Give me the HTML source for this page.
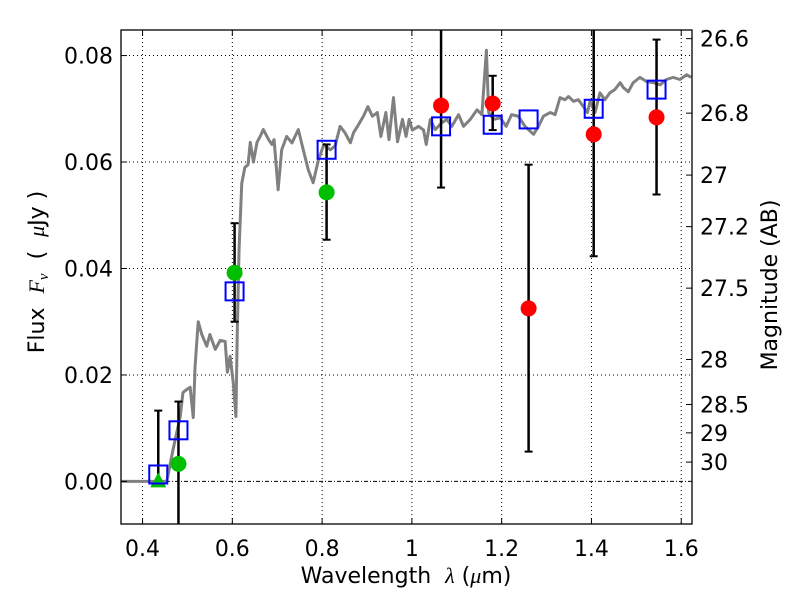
<!DOCTYPE html>
<html><head><meta charset="utf-8"><style>
html,body{margin:0;padding:0;background:#fff;}
svg text{font-family:"DejaVu Sans","Liberation Sans",sans-serif;}
</style></head><body>
<svg id="chart" width="800" height="600" xmlns="http://www.w3.org/2000/svg">
<rect width="800" height="600" fill="#fff"/>
<g id="grid"></g>
<g id="spec"></g>
<g id="marks"></g>
<g id="axes"></g>
<text x="406" y="583" font-size="22" text-anchor="middle">Wavelength&#160;&#160;<tspan font-family="Liberation Serif" font-style="italic">λ</tspan> (<tspan font-family="Liberation Serif" font-style="italic">μ</tspan>m)</text>
<text transform="translate(44,272) rotate(-90)" font-size="22" text-anchor="middle">Flux&#160;&#160;<tspan font-family="Liberation Serif" font-style="italic">F<tspan font-size="15" dy="4">ν</tspan></tspan><tspan dy="-4">&#160;&#160;(&#160;&#160;</tspan><tspan font-family="Liberation Serif" font-style="italic">μ</tspan>Jy )</text>
<text transform="translate(777,285) rotate(-90)" font-size="22" text-anchor="middle">Magnitude (AB)</text>
</svg>
<script>
const xTicks=[0.4,0.6,0.8,1.0,1.2,1.4,1.6];
const xTickLabels=["0.4","0.6","0.8","1","1.2","1.4","1.6"];
const yTicks=[0,0.02,0.04,0.06,0.08];
const yTickLabels=["0.00","0.02","0.04","0.06","0.08"];
const magTicks=[26.6,26.8,27,27.2,27.5,28,28.5,29,30];
const magTickLabels=["26.6","26.8","27","27.2","27.5","28","28.5","29","30"];
const specWl=[0.349,0.454,0.468,0.484,0.490,0.499,0.506,0.513,0.517,0.524,0.532,0.543,0.550,0.562,0.573,0.584,0.589,0.595,0.602,0.608,0.611,0.615,0.621,0.628,0.635,0.640,0.647,0.655,0.662,0.669,0.681,0.688,0.693,0.702,0.710,0.721,0.733,0.747,0.758,0.769,0.780,0.792,0.804,0.818,0.829,0.840,0.851,0.863,0.870,0.881,0.892,0.902,0.912,0.923,0.931,0.942,0.949,0.959,0.968,0.979,0.987,0.994,1.001,1.015,1.026,1.032,1.041,1.052,1.067,1.078,1.089,1.104,1.115,1.130,1.145,1.156,1.166,1.171,1.182,1.197,1.210,1.222,1.237,1.252,1.271,1.282,1.293,1.308,1.319,1.330,1.341,1.349,1.360,1.371,1.382,1.391,1.397,1.408,1.419,1.430,1.441,1.452,1.464,1.471,1.482,1.493,1.508,1.523,1.538,1.553,1.567,1.582,1.597,1.612,1.622];
const specFlux=[0,0,0.006,0.0122,0.0167,0.0173,0.0177,0.012,0.0216,0.030,0.0276,0.0254,0.0276,0.0248,0.0265,0.0263,0.0205,0.0235,0.0186,0.0122,0.028,0.0436,0.056,0.059,0.0595,0.0637,0.060,0.0637,0.0648,0.0661,0.0642,0.0633,0.0642,0.0548,0.0623,0.0648,0.0636,0.0661,0.0623,0.0586,0.0561,0.0605,0.0633,0.0623,0.063,0.0667,0.0655,0.0636,0.0655,0.067,0.0686,0.0704,0.0686,0.0693,0.0648,0.0693,0.0642,0.0721,0.0638,0.068,0.0648,0.068,0.066,0.0667,0.066,0.0633,0.068,0.0661,0.0674,0.068,0.0667,0.0689,0.0667,0.068,0.0698,0.0689,0.081,0.0693,0.068,0.0683,0.0667,0.0689,0.0686,0.0667,0.0652,0.0667,0.0686,0.0693,0.0689,0.0721,0.0717,0.0723,0.0714,0.0717,0.0704,0.0693,0.0714,0.0693,0.073,0.0717,0.073,0.0736,0.0749,0.074,0.0732,0.0749,0.0759,0.0751,0.0749,0.0745,0.0755,0.0759,0.0755,0.0764,0.0759];
const obsWl=[0.48,0.605,0.81,1.065,1.18,1.26,1.405,1.545];
const obsFlux=[0.0033,0.0392,0.0543,0.0706,0.071,0.0325,0.0652,0.0684];
const obsLo=[-0.02,0.030,0.0454,0.0552,0.066,0.0056,0.0423,0.0539];
const obsHi=[0.015,0.0485,0.0633,0.12,0.0762,0.0595,0.12,0.083];
const obsColor=["#00bf00","#00bf00","#00bf00","#ff0000","#ff0000","#ff0000","#ff0000","#ff0000"];
const limWl=[0.435];
const limFlux=[0];
const limHi=[0.0133];
const modelWl=[0.435,0.48,0.605,0.81,1.065,1.18,1.26,1.405,1.545];
const modelFlux=[0.0013,0.0096,0.0357,0.0623,0.0667,0.067,0.068,0.070,0.0736];

const L=121,R=692,T=30,B=524;
const X0=0.352,X1=1.624,Y0=-0.008,Y1=0.0848;
const xs=v=>L+(v-X0)/(X1-X0)*(R-L);
const ys=v=>B-(v-Y0)/(Y1-Y0)*(B-T);
const NS="http://www.w3.org/2000/svg";
function mk(tag,attrs,parent){const e=document.createElementNS(NS,tag);for(const k in attrs)e.setAttribute(k,attrs[k]);parent.appendChild(e);return e;}
const grid=document.getElementById('grid'),spec=document.getElementById('spec'),marks=document.getElementById('marks'),axes=document.getElementById('axes');

xTicks.forEach((t,i)=>{
  const x=xs(t);
  const g=mk('line',{x1:x,x2:x,y1:T,y2:B,stroke:'#000','stroke-width':1,'stroke-dasharray':'1,3'},grid);
  
  
  mk('line',{x1:x,x2:x,y1:B,y2:B-6,stroke:'#000'},axes);
  mk('line',{x1:x,x2:x,y1:T,y2:T+6,stroke:'#000'},axes);
  const tx=mk('text',{x:x,y:B+32,'font-size':22,'text-anchor':'middle'},axes);
  tx.textContent=xTickLabels[i];
  
  
});
yTicks.forEach((t,i)=>{
  const y=ys(t);
  const g=mk('line',{x1:L,x2:R,y1:y,y2:y,stroke:'#000','stroke-width':1,'stroke-dasharray':t===0?'4,2,1,2':'1,3'},grid);
  
  
  mk('line',{x1:L,x2:L+6,y1:y,y2:y,stroke:'#000'},axes);
  const tx=mk('text',{x:L-8,y:y+8,'font-size':22,'text-anchor':'end'},axes);
  tx.textContent=yTickLabels[i];
  
  
});
magTicks.forEach((m,i)=>{
  const y=ys(Math.pow(10,(23.9-m)/2.5));
  mk('line',{x1:R,x2:R-6,y1:y,y2:y,stroke:'#000'},axes);
  const tx=mk('text',{x:R+8,y:y+8,'font-size':22,'text-anchor':'start'},axes);
  tx.textContent=magTickLabels[i];
  
  
});
const fr=mk('rect',{x:L,y:T,width:R-L,height:B-T,fill:'none',stroke:'#000','stroke-width':1.3},axes);



const clip=mk('clipPath',{id:'pc'},document.getElementById('chart'));
mk('rect',{x:L,y:T,width:R-L,height:B-T},clip);
spec.setAttribute('clip-path','url(#pc)');
marks.setAttribute('clip-path','url(#pc)');

const sp=mk('polyline',{points:specWl.map((w,i)=>xs(w)+','+ys(specFlux[i])).join(' '),fill:'none',stroke:'#808080','stroke-width':3,'stroke-linejoin':'round'},spec);



function errbar(x,lo,hi){
  const g=mk('g',{},marks);
  
  
  mk('line',{x1:x,x2:x,y1:ys(lo),y2:ys(hi),stroke:'#000','stroke-width':2.5},g);
  mk('line',{x1:x-4,x2:x+4,y1:ys(lo),y2:ys(lo),stroke:'#000','stroke-width':2},g);
  mk('line',{x1:x-4,x2:x+4,y1:ys(hi),y2:ys(hi),stroke:'#000','stroke-width':2},g);
}
limWl.forEach((w,i)=>{
  const x=xs(w),y=ys(limFlux[i]);
  errbar(x,limFlux[i],limHi[i]);
  const tr=mk('polygon',{points:`${x},${y-9} ${x-8},${y+6} ${x+8},${y+6}`,fill:'#00bf00'},marks);
  
  
});
obsWl.forEach((w,i)=>{
  errbar(xs(w),obsLo[i],obsHi[i]);
});
modelWl.forEach((w,i)=>{
  const r=mk('rect',{x:xs(w)-9,y:ys(modelFlux[i])-9,width:18,height:18,fill:'none',stroke:'#0000ff','stroke-width':2},marks);
  
  
});
obsWl.forEach((w,i)=>{
  const c=mk('circle',{cx:xs(w),cy:ys(obsFlux[i]),r:8,fill:obsColor[i]},marks);
  
  
});
</script>
</body></html>
